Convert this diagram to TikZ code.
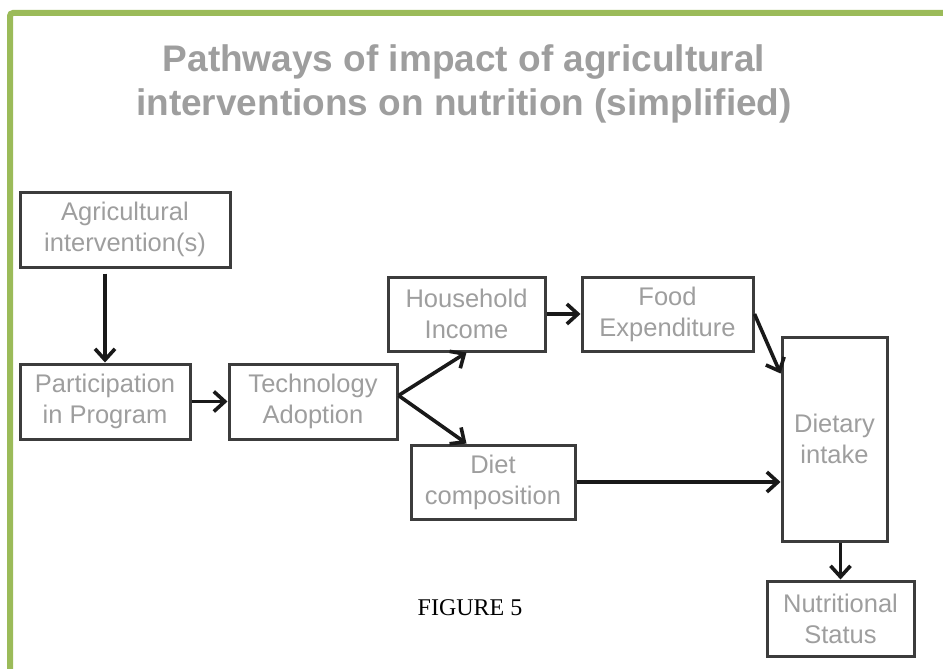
\documentclass[tikz,border=0pt]{standalone}
\usepackage{fontspec}
\setmainfont{Liberation Sans}
\newfontfamily\captionfont{Liberation Serif}
\usetikzlibrary{positioning, arrows.meta}
\definecolor{framegreen}{RGB}{155,187,89}
\definecolor{boxedge}{RGB}{60,60,60}
\definecolor{boxtext}{RGB}{158,158,158}

\begin{document}
\begin{tikzpicture}[
    x=1pt, y=-1pt,
    % Cajas blancas con borde gris oscuro y texto gris claro
    pbox/.style={
        rectangle,
        draw=boxedge,
        line width=3pt,
        text=boxtext,
        align=center,
        inner sep=0pt,
        font=\fontsize{25.5}{31}\selectfont
    },
    arr/.style={-{Straight Barb[length=11pt,width=20pt]}, line width=3.6pt, draw=black!90}
]

    \useasboundingbox (0,0) rectangle (943,669);

    % --- MARCO VERDE ---
    \draw[framegreen, line width=6pt, rounded corners=3pt] (10,700) -- (10,13) -- (960,13);

    % --- TITULO ---
    \node[text=boxtext, align=center, font=\fontsize{37}{44}\selectfont\bfseries] (title) at (464,84)
        {Pathways of impact of agricultural\\interventions on nutrition (simplified)};

    % --- NODOS ---
    \node[pbox, minimum width=210pt, minimum height=75pt] (agri) at (125,229.5) {Agricultural\\intervention(s)};
    \node[pbox, minimum width=170pt, minimum height=75pt] (part) at (105,401.5) {Participation\\in Program};
    \node[pbox, minimum width=168pt, minimum height=75pt] (tech) at (313,401.5) {Technology\\Adoption};

    \node[pbox, minimum width=157pt, minimum height=74pt] (house) at (466.5,314) {Household\\Income};
    \node[pbox, minimum width=171pt, minimum height=74pt] (food) at (667.5,314) {Food\\Expenditure};
    \node[pbox, minimum width=164pt, minimum height=74pt] (diet) at (493,482) {Diet\\composition};

    \node[pbox, minimum width=105pt, minimum height=204pt] (intake) at (834.5,439) {Dietary\\intake};
    \node[pbox, minimum width=147pt, minimum height=75pt] (status) at (840.5,618.5) {Nutritional\\Status};

    % --- PIE ---
    \node[font=\captionfont\fontsize{24}{28}\selectfont] (fig) at (470,608) {FIGURE 5};

    % --- CONEXIONES ---
    \coordinate (fork) at ([yshift=6pt]tech.east);

    \draw[arr, shorten <=5pt] (agri.south -| part.north) -- (part.north);
    \draw[arr] (part) -- (tech);
    \draw[arr] (fork) -- (house.south);
    \draw[arr] (fork) -- (house.south |- diet.north);
    \draw[arr] (house) -- (food);
    \draw[arr] (food.east) -- ([yshift=-38pt]intake.north west);
    \draw[arr] (diet) -- (diet -| intake.west);
    \draw[arr] (intake.south -| status.north) -- (status.north);

\end{tikzpicture}
\end{document}
